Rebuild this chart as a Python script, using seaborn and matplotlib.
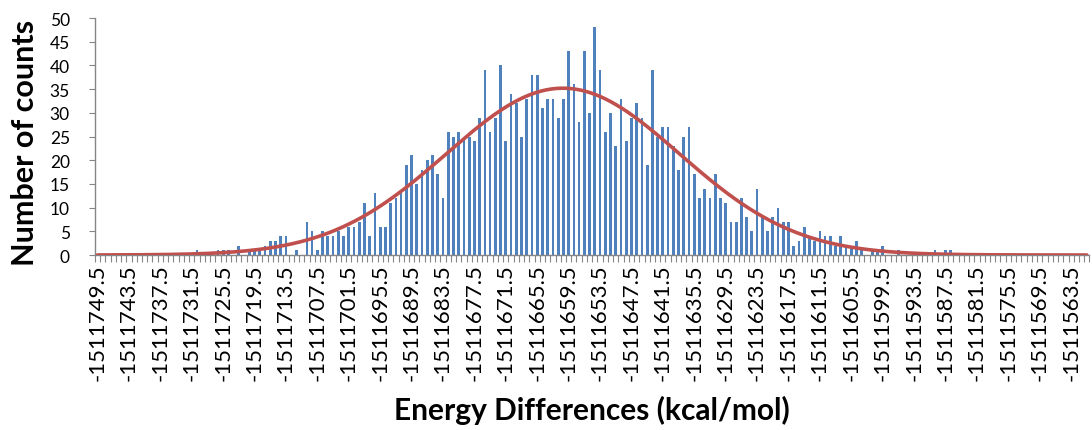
import numpy as np
import pandas as pd
import matplotlib
matplotlib.use("Agg")
import matplotlib.pyplot as plt
import seaborn as sns

# Histogram of energy differences: one bin per 1 kcal/mol, starting at the first bin centre
first_bin = -1511749.5
counts = [
    0, 0, 0, 0, 0, 0, 0, 0, 0, 0,     # 0-9
    0, 0, 0, 0, 0, 0, 0, 0, 0, 1,     # 10-19
    0, 0, 0, 1, 1, 1, 0, 2, 0, 1,     # 20-29
    1, 1, 2, 3, 3, 4, 4, 0, 1, 0,     # 30-39
    7, 5, 1, 5, 4, 4, 5, 4, 6, 6,     # 40-49
    7, 11, 4, 13, 6, 6, 11, 12, 13, 19,   # 50-59
    21, 15, 18, 20, 21, 17, 12, 26, 25, 26,  # 60-69
    25, 25, 24, 29, 39, 26, 29, 40, 24, 34,  # 70-79
    32, 25, 33, 38, 38, 31, 33, 33, 29, 33,  # 80-89
    43, 36, 28, 43, 30, 48, 39, 26, 30, 23,  # 90-99
    33, 24, 29, 32, 29, 19, 39, 25, 27, 27,  # 100-109
    23, 18, 25, 27, 17, 12, 14, 12, 17, 12,  # 110-119
    11, 7, 7, 12, 8, 5, 14, 8, 5, 8,         # 120-129
    10, 7, 7, 2, 3, 6, 4, 3, 5, 4,           # 130-139
    4, 2, 4, 2, 2, 3, 1, 0, 1, 1,            # 140-149
    2, 0, 0, 1, 0, 0, 0, 0, 0, 0,            # 150-159
    1, 0, 1, 1, 0, 0, 0, 0, 0, 0,            # 160-169
    0, 0, 0, 0, 0, 0, 0, 0, 0, 0,            # 170-179
    0, 0, 0, 0, 0, 0, 0, 0, 0, 0,            # 180-189
]
n_bins = len(counts)
bin_centres = first_bin + np.arange(n_bins)
bin_labels = [f"{v:.1f}" for v in bin_centres]
label_step = 6
y_ticks = list(range(0, 51, 5))

df = pd.DataFrame({"bin": bin_labels, "count": counts})

# Normal fit from the histogram moments, scaled to counts per bin
w = np.asarray(counts, dtype=float)
total = w.sum()
mu = np.sum(w * bin_centres) / total
sigma = np.sqrt(np.sum(w * (bin_centres - mu) ** 2) / total)
fit_pos = np.linspace(0, n_bins - 1, 1200)
fit_energy = first_bin + fit_pos
fit_counts = total * np.exp(-0.5 * ((fit_energy - mu) / sigma) ** 2) / (sigma * np.sqrt(2 * np.pi))

sns.set_theme(style="white")
plt.rcParams["font.family"] = ["Lato", "DejaVu Sans"]
plt.rcParams["text.color"] = "black"
plt.rcParams["axes.labelcolor"] = "black"
plt.rcParams["xtick.color"] = "black"
plt.rcParams["ytick.color"] = "black"

BAR = "#4F81BD"
LINE = "#C0504D"
AXIS = "#868686"

fig = plt.figure(figsize=(10.92, 4.31), dpi=100)
ax = fig.add_axes([0.0869, 0.406, 0.9108, 0.5499])

sns.barplot(data=df, x="bin", y="count", order=bin_labels, color=BAR,
            saturation=1, width=0.52, linewidth=0, ax=ax)
ax.plot(fit_pos, fit_counts, color=LINE, lw=2.6, solid_capstyle="round", zorder=3)

ax.set_xlim(-0.5, n_bins - 0.5)
ax.set_ylim(0, 50)
ax.set_yticks(y_ticks)
ax.set_yticklabels([str(t) for t in y_ticks], fontsize=12.5)

ax.set_xticks(range(0, n_bins, label_step))
ax.set_xticklabels(bin_labels[::label_step], rotation=90, fontsize=16)
ax.set_xticks(np.arange(-0.5, n_bins, 1), minor=True)
ax.tick_params(axis="x", which="major", length=0, pad=6, labelcolor="black")
ax.tick_params(axis="x", which="minor", length=5, width=0.8, color=AXIS, bottom=True)
ax.tick_params(axis="y", which="major", length=4, width=0.8, color=AXIS, left=True,
               pad=14, labelcolor="black")

for side in ("top", "right"):
    ax.spines[side].set_visible(False)
for side in ("left", "bottom"):
    ax.spines[side].set_color(AXIS)
    ax.spines[side].set_linewidth(1.0)

ax.set_xlabel("Energy Differences (kcal/mol)", fontsize=21.5, fontweight="bold", color="black")
ax.xaxis.set_label_coords(0.5, (21 - 175) / 237)
ax.xaxis.label.set_verticalalignment("center")
ax.set_ylabel("Number of counts", fontsize=22, fontweight="bold", color="black")
ax.yaxis.set_label_coords(-0.0703, 0.475)
ax.yaxis.label.set_verticalalignment("center")

fig.savefig("out.png", dpi=100)
